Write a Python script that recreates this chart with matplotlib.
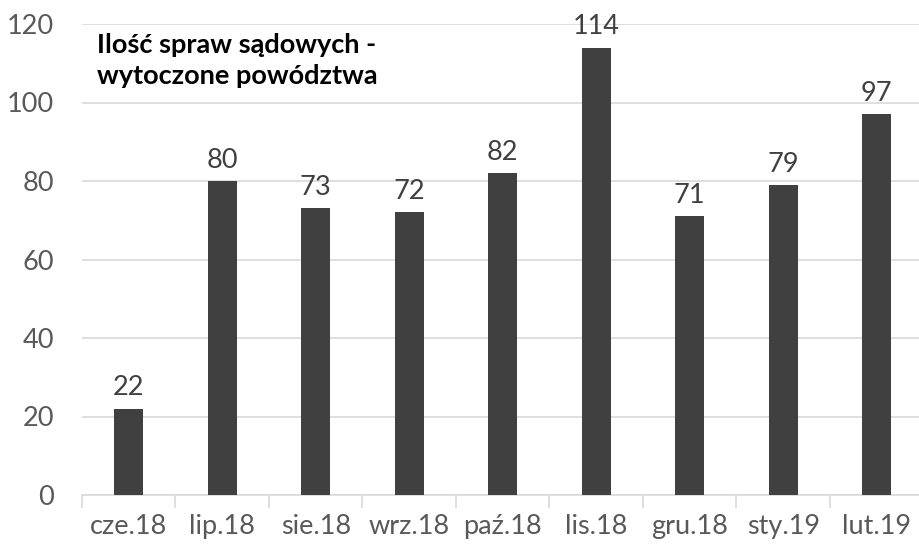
import matplotlib.pyplot as plt
import numpy as np

months = ["cze.18", "lip.18", "sie.18", "wrz.18", "paź.18", "lis.18", "gru.18", "sty.19", "lut.19"]
cases = [22, 80, 73, 72, 82, 114, 71, 79, 97]
yticks = [0, 20, 40, 60, 80, 100, 120]

plt.rcParams['font.family'] = ['Lato', 'DejaVu Sans']

fig = plt.figure(figsize=(9.2, 5.49), dpi=100)
ax = fig.add_axes([82 / 920, 54 / 549, 841.5 / 920, 471 / 549])

x = np.arange(len(months))
ax.bar(x, cases, width=0.31, color='#404040', zorder=3)
for xi, v in zip(x, cases):
    ax.annotate(str(v), (xi, v), xytext=(0, 6), textcoords='offset points',
                ha='center', va='bottom', fontsize=19.5, color='#404040')

ax.set_xlim(-0.5, len(months) - 0.5)
ax.set_ylim(0, 120)
ax.set_yticks(yticks)
ax.set_xticks(x)
ax.set_xticklabels(months)
ax.set_xticks(np.arange(len(months) + 1) - 0.5, minor=True)

ax.yaxis.grid(True, color='#d9d9d9', lw=1.2, zorder=0)
for s in ['top', 'right', 'left']:
    ax.spines[s].set_visible(False)
ax.spines['bottom'].set_color('#d9d9d9')
ax.spines['bottom'].set_linewidth(1.2)

ax.tick_params(axis='y', length=0, pad=20, labelsize=19.5, labelcolor='#595959')
ax.tick_params(axis='x', which='major', length=0, pad=14, labelsize=19.5, labelcolor='#595959')
ax.tick_params(axis='x', which='minor', length=9, width=1.2, color='#d9d9d9')

fig.text(97 / 920, 1 - 33 / 549, "Ilość spraw sądowych -\nwytoczone powództwa",
         fontsize=19.5, fontweight='bold', color='black', ha='left', va='top',
         linespacing=1.35)

fig.savefig('out.png', dpi=100)
